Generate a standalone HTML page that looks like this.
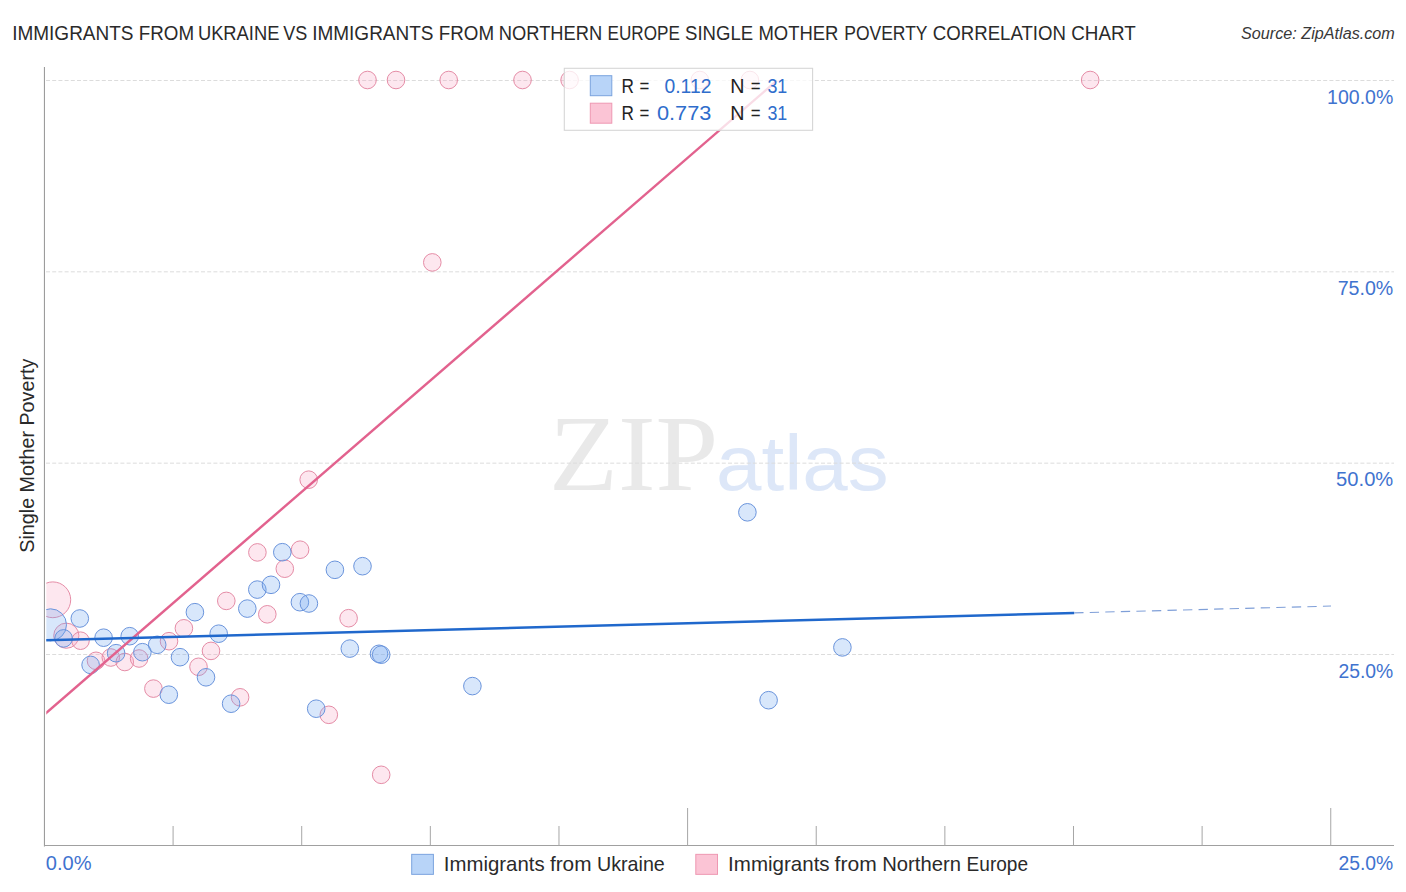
<!DOCTYPE html>
<html><head><meta charset="utf-8"><title>chart</title>
<style>
html,body{margin:0;padding:0;background:#fff;}
body{width:1406px;height:892px;overflow:hidden;font-family:"Liberation Sans",sans-serif;}
svg{display:block;font-family:"Liberation Sans",sans-serif;}
.serif{font-family:"Liberation Serif",serif;}
</style></head><body>
<svg width="1406" height="892" viewBox="0 0 1406 892">
<rect width="1406" height="892" fill="#ffffff"/>
<defs><clipPath id="plot"><rect x="46.3" y="60" width="1349" height="786"/></clipPath></defs>
<!-- title -->
<g font-size="19.8" fill="#2a2a2a">
<text x="12.2" y="39.6" textLength="121.3" lengthAdjust="spacingAndGlyphs">IMMIGRANTS</text>
<text x="138.8" y="39.6" textLength="55.3" lengthAdjust="spacingAndGlyphs">FROM</text>
<text x="197.9" y="39.6" textLength="81.5" lengthAdjust="spacingAndGlyphs">UKRAINE</text>
<text x="283.3" y="39.6" textLength="24.0" lengthAdjust="spacingAndGlyphs">VS</text>
<text x="312.2" y="39.6" textLength="121.3" lengthAdjust="spacingAndGlyphs">IMMIGRANTS</text>
<text x="438.8" y="39.6" textLength="55.3" lengthAdjust="spacingAndGlyphs">FROM</text>
<text x="498.8" y="39.6" textLength="103.4" lengthAdjust="spacingAndGlyphs">NORTHERN</text>
<text x="607.5" y="39.6" textLength="72.3" lengthAdjust="spacingAndGlyphs">EUROPE</text>
<text x="685.0" y="39.6" textLength="68.1" lengthAdjust="spacingAndGlyphs">SINGLE</text>
<text x="758.4" y="39.6" textLength="80.0" lengthAdjust="spacingAndGlyphs">MOTHER</text>
<text x="844.3" y="39.6" textLength="83.2" lengthAdjust="spacingAndGlyphs">POVERTY</text>
<text x="932.8" y="39.6" textLength="133.2" lengthAdjust="spacingAndGlyphs">CORRELATION</text>
<text x="1071.2" y="39.6" textLength="64.5" lengthAdjust="spacingAndGlyphs">CHART</text>
</g>
<text x="1241" y="38.6" font-size="15.8" font-style="italic" fill="#383838" textLength="153.8" lengthAdjust="spacingAndGlyphs">Source: ZipAtlas.com</text>
<!-- watermark -->
<text class="serif" x="549" y="490.4" font-size="108" fill="#e9e9e9" textLength="169.3" lengthAdjust="spacingAndGlyphs">ZIP</text>
<text x="716" y="490.4" font-size="78" fill="#dde7f8" textLength="172.7" lengthAdjust="spacingAndGlyphs">atlas</text>
<!-- grid -->
<line x1="46" y1="80.5" x2="1394" y2="80.5" stroke="#dcdcdc" stroke-width="1" stroke-dasharray="4 2.2"/>
<line x1="46" y1="271.83" x2="1394" y2="271.83" stroke="#dcdcdc" stroke-width="1" stroke-dasharray="4 2.2"/>
<line x1="46" y1="463.17" x2="1394" y2="463.17" stroke="#dcdcdc" stroke-width="1" stroke-dasharray="4 2.2"/>
<line x1="46" y1="654.5" x2="1394" y2="654.5" stroke="#dcdcdc" stroke-width="1" stroke-dasharray="4 2.2"/>

<!-- axes -->
<line x1="44.45" y1="67" x2="44.45" y2="846.4" stroke="#9c9c9c" stroke-width="1.1"/>
<line x1="44" y1="845.5" x2="1394" y2="845.5" stroke="#a0a0a0" stroke-width="1.05"/>
<line x1="173.08" y1="826" x2="173.08" y2="845.5" stroke="#a6a6a6" stroke-width="1"/>
<line x1="301.71" y1="826" x2="301.71" y2="845.5" stroke="#a6a6a6" stroke-width="1"/>
<line x1="430.34" y1="826" x2="430.34" y2="845.5" stroke="#a6a6a6" stroke-width="1"/>
<line x1="558.97" y1="826" x2="558.97" y2="845.5" stroke="#a6a6a6" stroke-width="1"/>
<line x1="687.60" y1="808" x2="687.60" y2="845.5" stroke="#a6a6a6" stroke-width="1"/>
<line x1="816.23" y1="826" x2="816.23" y2="845.5" stroke="#a6a6a6" stroke-width="1"/>
<line x1="944.86" y1="826" x2="944.86" y2="845.5" stroke="#a6a6a6" stroke-width="1"/>
<line x1="1073.49" y1="826" x2="1073.49" y2="845.5" stroke="#a6a6a6" stroke-width="1"/>
<line x1="1202.12" y1="826" x2="1202.12" y2="845.5" stroke="#a6a6a6" stroke-width="1"/>
<line x1="1330.75" y1="808" x2="1330.75" y2="845.5" stroke="#a6a6a6" stroke-width="1"/>

<!-- y axis title -->
<text transform="translate(34.3,552.7) rotate(-90)" font-size="19.8" fill="#2a2a2a" textLength="194" lengthAdjust="spacingAndGlyphs">Single Mother Poverty</text>
<text x="1393.3" y="103.7" text-anchor="end" font-size="19.6" fill="#3f73cf" textLength="66.2" lengthAdjust="spacingAndGlyphs">100.0%</text>
<text x="1393.3" y="294.7" text-anchor="end" font-size="19.6" fill="#3f73cf" textLength="55.6" lengthAdjust="spacingAndGlyphs">75.0%</text>
<text x="1393.3" y="486.1" text-anchor="end" font-size="19.6" fill="#3f73cf" textLength="57.2" lengthAdjust="spacingAndGlyphs">50.0%</text>
<text x="1393.3" y="677.5" text-anchor="end" font-size="19.6" fill="#3f73cf" textLength="54.8" lengthAdjust="spacingAndGlyphs">25.0%</text>

<text x="45.8" y="869.5" font-size="19.6" fill="#3f73cf" textLength="45.8" lengthAdjust="spacingAndGlyphs">0.0%</text>
<text x="1393.3" y="869.5" text-anchor="end" font-size="19.6" fill="#3f73cf" textLength="54.8" lengthAdjust="spacingAndGlyphs">25.0%</text>
<!-- points -->
<g clip-path="url(#plot)">
<circle cx="52.8" cy="599.8" r="17.90" fill="rgba(248,168,196,0.28)" stroke="#e58ca6" stroke-width="1"/>
<circle cx="66.3" cy="635.7" r="12.60" fill="rgba(248,168,196,0.28)" stroke="#e58ca6" stroke-width="1"/>
<circle cx="80.5" cy="640.7" r="8.80" fill="rgba(248,168,196,0.28)" stroke="#e58ca6" stroke-width="1"/>
<circle cx="96" cy="660.8" r="8.80" fill="rgba(248,168,196,0.28)" stroke="#e58ca6" stroke-width="1"/>
<circle cx="110.8" cy="657.5" r="8.80" fill="rgba(248,168,196,0.28)" stroke="#e58ca6" stroke-width="1"/>
<circle cx="124.8" cy="662" r="8.80" fill="rgba(248,168,196,0.28)" stroke="#e58ca6" stroke-width="1"/>
<circle cx="139.1" cy="658.5" r="8.80" fill="rgba(248,168,196,0.28)" stroke="#e58ca6" stroke-width="1"/>
<circle cx="169" cy="641.2" r="8.80" fill="rgba(248,168,196,0.28)" stroke="#e58ca6" stroke-width="1"/>
<circle cx="183.9" cy="628.3" r="8.80" fill="rgba(248,168,196,0.28)" stroke="#e58ca6" stroke-width="1"/>
<circle cx="211" cy="650.9" r="8.80" fill="rgba(248,168,196,0.28)" stroke="#e58ca6" stroke-width="1"/>
<circle cx="198.5" cy="666.8" r="8.80" fill="rgba(248,168,196,0.28)" stroke="#e58ca6" stroke-width="1"/>
<circle cx="153.4" cy="688.6" r="8.80" fill="rgba(248,168,196,0.28)" stroke="#e58ca6" stroke-width="1"/>
<circle cx="240.1" cy="697.3" r="8.80" fill="rgba(248,168,196,0.28)" stroke="#e58ca6" stroke-width="1"/>
<circle cx="226.3" cy="600.9" r="8.80" fill="rgba(248,168,196,0.28)" stroke="#e58ca6" stroke-width="1"/>
<circle cx="257.4" cy="552.4" r="8.80" fill="rgba(248,168,196,0.28)" stroke="#e58ca6" stroke-width="1"/>
<circle cx="300.1" cy="549.7" r="8.80" fill="rgba(248,168,196,0.28)" stroke="#e58ca6" stroke-width="1"/>
<circle cx="284.8" cy="568.7" r="8.80" fill="rgba(248,168,196,0.28)" stroke="#e58ca6" stroke-width="1"/>
<circle cx="267.3" cy="614.3" r="8.80" fill="rgba(248,168,196,0.28)" stroke="#e58ca6" stroke-width="1"/>
<circle cx="348.6" cy="618.2" r="8.80" fill="rgba(248,168,196,0.28)" stroke="#e58ca6" stroke-width="1"/>
<circle cx="308.7" cy="479.7" r="8.80" fill="rgba(248,168,196,0.28)" stroke="#e58ca6" stroke-width="1"/>
<circle cx="328.8" cy="714.8" r="8.80" fill="rgba(248,168,196,0.28)" stroke="#e58ca6" stroke-width="1"/>
<circle cx="381.2" cy="774.8" r="8.80" fill="rgba(248,168,196,0.28)" stroke="#e58ca6" stroke-width="1"/>
<circle cx="432.3" cy="262.4" r="8.80" fill="rgba(248,168,196,0.28)" stroke="#e58ca6" stroke-width="1"/>
<circle cx="367.5" cy="80.0" r="8.80" fill="rgba(248,168,196,0.28)" stroke="#e58ca6" stroke-width="1"/>
<circle cx="396" cy="80.0" r="8.80" fill="rgba(248,168,196,0.28)" stroke="#e58ca6" stroke-width="1"/>
<circle cx="448.7" cy="80.0" r="8.80" fill="rgba(248,168,196,0.28)" stroke="#e58ca6" stroke-width="1"/>
<circle cx="522.5" cy="80.0" r="8.80" fill="rgba(248,168,196,0.28)" stroke="#e58ca6" stroke-width="1"/>
<circle cx="569.6" cy="80.0" r="8.80" fill="rgba(248,168,196,0.28)" stroke="#e58ca6" stroke-width="1"/>
<circle cx="699.8" cy="80.0" r="8.80" fill="rgba(248,168,196,0.28)" stroke="#e58ca6" stroke-width="1"/>
<circle cx="749.9" cy="80.0" r="8.80" fill="rgba(248,168,196,0.28)" stroke="#e58ca6" stroke-width="1"/>
<circle cx="1090.2" cy="80.0" r="8.80" fill="rgba(248,168,196,0.28)" stroke="#e58ca6" stroke-width="1"/>
<circle cx="50.5" cy="624.8" r="16.00" fill="rgba(115,168,240,0.28)" stroke="#6a94dc" stroke-width="1"/>
<circle cx="63.6" cy="638.4" r="8.80" fill="rgba(115,168,240,0.28)" stroke="#6a94dc" stroke-width="1"/>
<circle cx="79.8" cy="618.5" r="8.80" fill="rgba(115,168,240,0.28)" stroke="#6a94dc" stroke-width="1"/>
<circle cx="103.6" cy="637.7" r="8.80" fill="rgba(115,168,240,0.28)" stroke="#6a94dc" stroke-width="1"/>
<circle cx="129.7" cy="636.2" r="8.80" fill="rgba(115,168,240,0.28)" stroke="#6a94dc" stroke-width="1"/>
<circle cx="90.6" cy="664.9" r="8.80" fill="rgba(115,168,240,0.28)" stroke="#6a94dc" stroke-width="1"/>
<circle cx="116.1" cy="653.2" r="8.80" fill="rgba(115,168,240,0.28)" stroke="#6a94dc" stroke-width="1"/>
<circle cx="142.4" cy="652.2" r="8.80" fill="rgba(115,168,240,0.28)" stroke="#6a94dc" stroke-width="1"/>
<circle cx="157.2" cy="644.8" r="8.80" fill="rgba(115,168,240,0.28)" stroke="#6a94dc" stroke-width="1"/>
<circle cx="194.9" cy="612.2" r="8.80" fill="rgba(115,168,240,0.28)" stroke="#6a94dc" stroke-width="1"/>
<circle cx="180" cy="657.2" r="8.80" fill="rgba(115,168,240,0.28)" stroke="#6a94dc" stroke-width="1"/>
<circle cx="218.7" cy="633.7" r="8.80" fill="rgba(115,168,240,0.28)" stroke="#6a94dc" stroke-width="1"/>
<circle cx="206" cy="677.3" r="8.80" fill="rgba(115,168,240,0.28)" stroke="#6a94dc" stroke-width="1"/>
<circle cx="168.8" cy="694.7" r="8.80" fill="rgba(115,168,240,0.28)" stroke="#6a94dc" stroke-width="1"/>
<circle cx="231.1" cy="703.7" r="8.80" fill="rgba(115,168,240,0.28)" stroke="#6a94dc" stroke-width="1"/>
<circle cx="247.3" cy="608.6" r="8.80" fill="rgba(115,168,240,0.28)" stroke="#6a94dc" stroke-width="1"/>
<circle cx="257.3" cy="589.6" r="8.80" fill="rgba(115,168,240,0.28)" stroke="#6a94dc" stroke-width="1"/>
<circle cx="271" cy="584.8" r="8.80" fill="rgba(115,168,240,0.28)" stroke="#6a94dc" stroke-width="1"/>
<circle cx="282.3" cy="552.2" r="8.80" fill="rgba(115,168,240,0.28)" stroke="#6a94dc" stroke-width="1"/>
<circle cx="334.9" cy="569.8" r="8.80" fill="rgba(115,168,240,0.28)" stroke="#6a94dc" stroke-width="1"/>
<circle cx="362.5" cy="566.2" r="8.80" fill="rgba(115,168,240,0.28)" stroke="#6a94dc" stroke-width="1"/>
<circle cx="299.9" cy="602.2" r="8.80" fill="rgba(115,168,240,0.28)" stroke="#6a94dc" stroke-width="1"/>
<circle cx="308.9" cy="603.5" r="8.80" fill="rgba(115,168,240,0.28)" stroke="#6a94dc" stroke-width="1"/>
<circle cx="349.8" cy="648.6" r="8.80" fill="rgba(115,168,240,0.28)" stroke="#6a94dc" stroke-width="1"/>
<circle cx="379" cy="653.8" r="8.80" fill="rgba(115,168,240,0.28)" stroke="#6a94dc" stroke-width="1"/>
<circle cx="381.2" cy="654.7" r="8.80" fill="rgba(115,168,240,0.28)" stroke="#6a94dc" stroke-width="1"/>
<circle cx="472.4" cy="686.1" r="8.80" fill="rgba(115,168,240,0.28)" stroke="#6a94dc" stroke-width="1"/>
<circle cx="316.2" cy="708.7" r="8.80" fill="rgba(115,168,240,0.28)" stroke="#6a94dc" stroke-width="1"/>
<circle cx="747.4" cy="512.3" r="8.80" fill="rgba(115,168,240,0.28)" stroke="#6a94dc" stroke-width="1"/>
<circle cx="842.4" cy="647.4" r="8.80" fill="rgba(115,168,240,0.28)" stroke="#6a94dc" stroke-width="1"/>
<circle cx="768.6" cy="700.2" r="8.80" fill="rgba(115,168,240,0.28)" stroke="#6a94dc" stroke-width="1"/>
<line x1="45" y1="714" x2="777" y2="80.5" stroke="#e2628e" stroke-width="2.4"/>
<line x1="45" y1="640.35" x2="1074.2" y2="612.9" stroke="#2068cc" stroke-width="2.5"/>
<line x1="1074.2" y1="612.9" x2="1331" y2="606.05" stroke="#7f9fd8" stroke-width="1.1" stroke-dasharray="9.33 6.22"/>
</g>
<!-- legend box -->
<rect x="564.3" y="68.3" width="248.3" height="62" fill="rgba(255,255,255,0.78)" stroke="#d6d6d6" stroke-width="1.1"/>
<rect x="590.3" y="75.7" width="21.5" height="20" fill="#b8d4f8" stroke="#7ba3de" stroke-width="1"/>
<rect x="590.3" y="103.2" width="21.5" height="20" fill="#fbc4d5" stroke="#ee98b2" stroke-width="1"/>
<text x="621.6" y="93.3" font-size="19.7" fill="#222" textLength="12.4" lengthAdjust="spacingAndGlyphs">R</text>
<text x="639.5" y="93.3" font-size="19.7" fill="#222" textLength="9.8" lengthAdjust="spacingAndGlyphs">=</text>
<text x="730.2" y="93.3" font-size="19.7" fill="#222">N</text>
<text x="750.8" y="93.3" font-size="19.7" fill="#222" textLength="9.8" lengthAdjust="spacingAndGlyphs">=</text>
<text x="767.4" y="93.3" font-size="19.7" fill="#2f6dcc" textLength="19.9" lengthAdjust="spacingAndGlyphs">31</text>
<text x="621.6" y="120.0" font-size="19.7" fill="#222" textLength="12.4" lengthAdjust="spacingAndGlyphs">R</text>
<text x="639.5" y="120.0" font-size="19.7" fill="#222" textLength="9.8" lengthAdjust="spacingAndGlyphs">=</text>
<text x="730.2" y="120.0" font-size="19.7" fill="#222">N</text>
<text x="750.8" y="120.0" font-size="19.7" fill="#222" textLength="9.8" lengthAdjust="spacingAndGlyphs">=</text>
<text x="767.4" y="120.0" font-size="19.7" fill="#2f6dcc" textLength="19.9" lengthAdjust="spacingAndGlyphs">31</text>
<text x="664.5" y="93.3" font-size="19.7" fill="#2f6dcc" textLength="46.9" lengthAdjust="spacingAndGlyphs">0.112</text>
<text x="657" y="120" font-size="19.7" fill="#2f6dcc" textLength="54.4" lengthAdjust="spacingAndGlyphs">0.773</text>
<!-- bottom legend -->
<rect x="411.7" y="854.35" width="21.7" height="20" fill="#b8d4f8" stroke="#7ba3de" stroke-width="1"/>
<rect x="695.8" y="854.35" width="21.7" height="20" fill="#fbc4d5" stroke="#ee98b2" stroke-width="1"/>
<g font-size="19.8" fill="#2a2a2a">
<text x="443.8" y="870.8" textLength="100.8" lengthAdjust="spacingAndGlyphs">Immigrants</text>
<text x="549.9" y="870.8" textLength="41.6" lengthAdjust="spacingAndGlyphs">from</text>
<text x="597.0" y="870.8" textLength="67.8" lengthAdjust="spacingAndGlyphs">Ukraine</text>
<text x="728.1" y="870.8" textLength="101.5" lengthAdjust="spacingAndGlyphs">Immigrants</text>
<text x="834.6" y="870.8" textLength="42.1" lengthAdjust="spacingAndGlyphs">from</text>
<text x="882.2" y="870.8" textLength="78.7" lengthAdjust="spacingAndGlyphs">Northern</text>
<text x="966.6" y="870.8" textLength="61.4" lengthAdjust="spacingAndGlyphs">Europe</text>
</g>
</svg>
</body></html>
